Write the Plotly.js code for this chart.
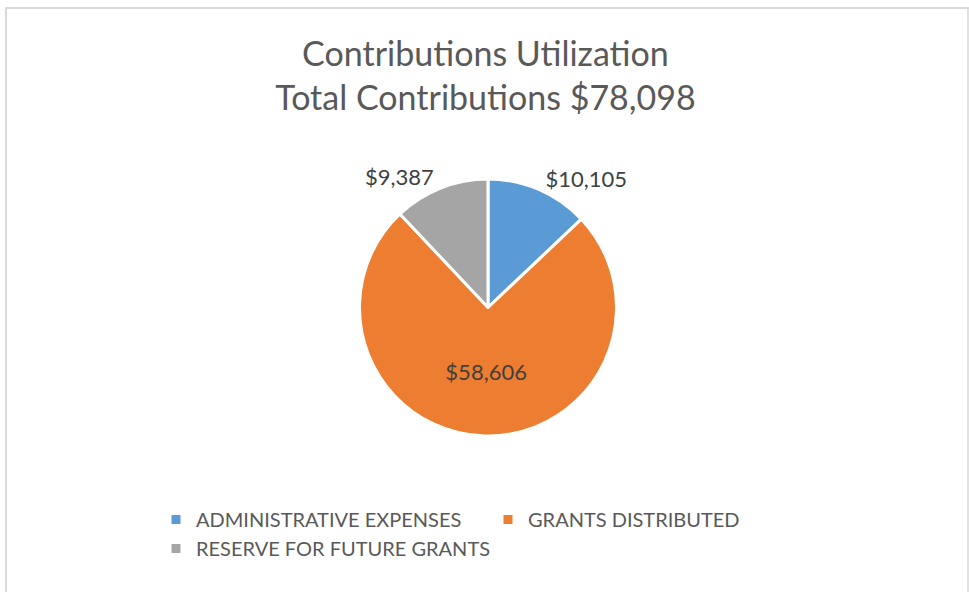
<!DOCTYPE html>
<html>
<head>
<meta charset="utf-8">
<script src="https://cdn.plot.ly/plotly-3.0.1.min.js"></script>
<style>html,body{margin:0;padding:0;background:#fff;}#chart{width:969px;height:592px;}</style>
</head>
<body>
<div id="chart"></div>
<script>
const categories = ['ADMINISTRATIVE EXPENSES', 'GRANTS DISTRIBUTED', 'RESERVE FOR FUTURE GRANTS'];
const amounts = [10105, 58606, 9387];
const labelText = ['$10,105', '$58,606', '$9,387'];
const sliceColors = ['#5B9BD5', '#ED7D31', '#A5A5A5'];
const titleLines = ['Contributions Utilization', 'Total Contributions $78,098'];

const W = 969, H = 592;
const cx = 488, cy = 307.5, R = 128.5;

const trace = {
  type: 'pie',
  labels: categories,
  values: amounts,
  text: labelText,
  textinfo: 'text',
  textposition: ['outside', 'inside', 'outside'],
  sort: false,
  direction: 'clockwise',
  rotation: 0,
  marker: {colors: sliceColors, line: {color: '#ffffff', width: 3}},
  textfont: {family: 'Lato, sans-serif', size: 22, color: '#404040'},
  insidetextfont: {family: 'Lato, sans-serif', size: 22, color: '#404040'},
  outsidetextfont: {family: 'Lato, sans-serif', size: 22, color: '#404040'},
  insidetextorientation: 'horizontal',
  automargin: false,
  domain: {
    x: [(cx - R) / W, (cx + R) / W],
    y: [(H - cy - R) / H, (H - cy + R) / H]
  },
  hoverinfo: 'label+value'
};

const layout = {
  width: W,
  height: H,
  margin: {l: 0, r: 0, t: 0, b: 0},
  paper_bgcolor: '#ffffff',
  font: {family: 'Lato, sans-serif', color: '#595959'},
  title: {
    text: titleLines.join('<br>'),
    x: 0.501,
    xanchor: 'center',
    y: 1 - 66 / H,
    yanchor: 'top',
    yref: 'paper',
    font: {family: 'Lato, sans-serif', size: 34, color: '#595959'}
  },
  showlegend: true,
  legend: {
    orientation: 'h',
    x: 156 / W,
    xanchor: 'left',
    y: 1 - 534 / H,
    yanchor: 'middle',
    entrywidth: 287,
    entrywidthmode: 'pixels',
    font: {family: 'Lato, sans-serif', size: 20, color: '#595959'},
    traceorder: 'normal'
  },
  shapes: [
    {type: 'line', xref: 'paper', yref: 'paper', x0: 5 / W, x1: 1, y0: 1 - 8 / H, y1: 1 - 8 / H, line: {color: '#D9D9D9', width: 2}},
    {type: 'line', xref: 'paper', yref: 'paper', x0: 6 / W, x1: 6 / W, y0: 0, y1: 1 - 8 / H, line: {color: '#D9D9D9', width: 2}},
    {type: 'line', xref: 'paper', yref: 'paper', x0: 968 / W, x1: 968 / W, y0: 0, y1: 1 - 8 / H, line: {color: '#D9D9D9', width: 1.5}}
  ]
};

Plotly.newPlot('chart', [trace], layout, {displayModeBar: false, staticPlot: true});
</script>
</body>
</html>
